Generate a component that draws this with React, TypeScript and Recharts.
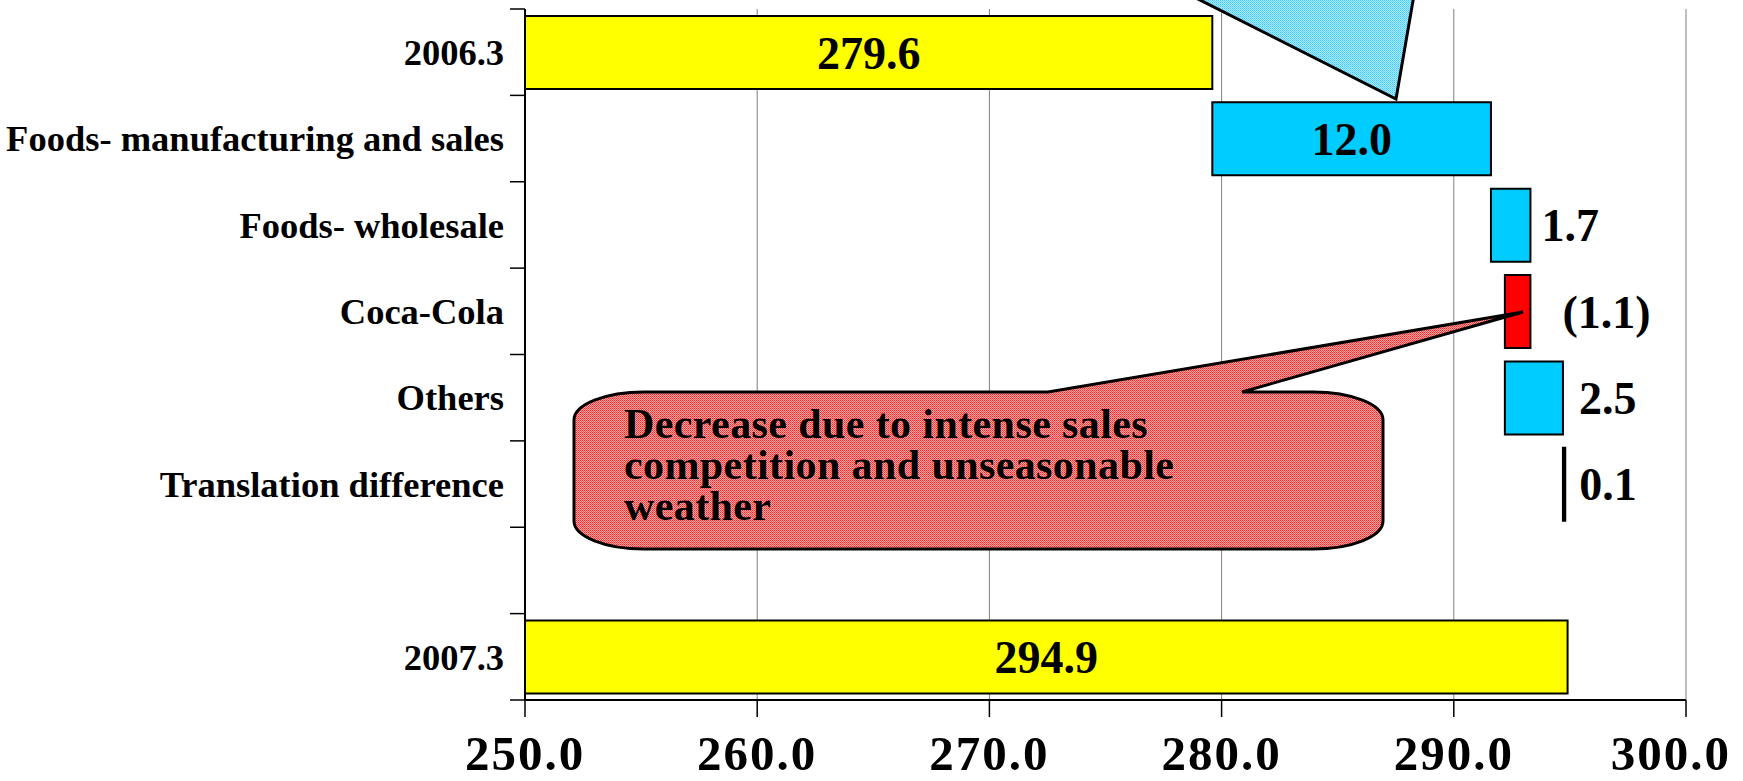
import React from "react";
import {
  BarChart,
  Bar,
  XAxis,
  YAxis,
  CartesianGrid,
  Cell,
  LabelList,
} from "recharts";

const categories = [
  "2006.3",
  "Foods- manufacturing and sales",
  "Foods- wholesale",
  "Coca-Cola",
  "Others",
  "Translation difference",
  "",
  "2007.3",
];
// totals are absolute, the rest are changes from the running total
const kinds = ["total", "up", "up", "down", "up", "fx", "blank", "total"];
const values = [279.6, 12.0, 1.7, -1.1, 2.5, 0.1, null, 294.9];
const valueLabels = ["279.6", "12.0", "1.7", "(1.1)", "2.5", "0.1", "", "294.9"];
const xTicks = [250, 260, 270, 280, 290, 300];
const calloutText = [
  "Decrease due to intense sales",
  "competition and unseasonable",
  "weather",
];

const W = 1743;
const H = 781;
const MARGIN = { top: 9, right: 57, bottom: 0, left: 0 };
const Y_AXIS_W = 525;
const X_AXIS_H = 81;
const BAND = (H - MARGIN.top - MARGIN.bottom - X_AXIS_H) / categories.length;
const FONT = '"Liberation Serif", "Times New Roman", serif';

const fills: Record<string, string> = {
  total: "#FFFF00",
  up: "#00CCFF",
  down: "#FF0000",
  fx: "#000000",
  blank: "none",
};
// gap between bar end and outside label
const outsideOffset: Record<number, number> = { 2: 11, 3: 32, 4: 16, 5: 14 };

const domainMin = xTicks[0];
let running = 0;
const data = categories.map((name, i) => {
  const v = values[i];
  let range: number[] | null = null;
  if (v !== null) {
    if (kinds[i] === "total") {
      range = [domainMin, v];
      running = v;
    } else {
      const next = running + v;
      range = [Math.min(running, next), Math.max(running, next)];
      running = next;
    }
  }
  return { name, range, label: valueLabels[i], kind: kinds[i] };
});

const YTick = (props: any) => {
  const { x, y, payload, index } = props;
  const ax = Y_AXIS_W;
  return (
    <g>
      <line x1={ax - 15} x2={ax} y1={y - BAND / 2} y2={y - BAND / 2} stroke="#000" strokeWidth={1.5} />
      {index === categories.length - 1 && (
        <line x1={ax - 15} x2={ax} y1={y + BAND / 2} y2={y + BAND / 2} stroke="#000" strokeWidth={1.5} />
      )}
      <text
        x={x}
        y={y}
        dy="0.35em"
        textAnchor="end"
        fontFamily={FONT}
        fontWeight="bold"
        fontSize={36.5}
        fill="#000"
      >
        {payload.value}
      </text>
    </g>
  );
};

const XTick = (props: any) => {
  const { x, y, payload, index } = props;
  const last = index === xTicks.length - 1;
  return (
    <text
      x={last ? W - 12 : x}
      y={y}
      dy="0.71em"
      textAnchor={last ? "end" : "middle"}
      fontFamily={FONT}
      fontWeight="bold"
      fontSize={49}
      letterSpacing={2}
      fill="#000"
    >
      {Number(payload.value).toFixed(1)}
    </text>
  );
};

const ValueLabel = (props: any) => {
  const { x, y, width, height, value } = props;
  const index = valueLabels.indexOf(value);
  if (index < 0 || value === "") return null;
  const inside = kinds[index] === "total" || index === 1;
  const tx = inside ? x + width / 2 : x + width + (outsideOffset[index] ?? 12);
  return (
    <text
      x={tx}
      y={y + height / 2}
      dy="0.35em"
      textAnchor={inside ? "middle" : "start"}
      fontFamily={FONT}
      fontWeight="bold"
      fontSize={46}
      fill="#000"
    >
      {value}
    </text>
  );
};

const Callouts = () => {
  const l = 574, r = 1383, t = 392, b = 549, rx = 70, ry = 28;
  const redPath = [
    `M ${l + rx} ${t}`,
    `L 1048 ${t}`,
    `L 1523 312`,
    `L 1242 ${t}`,
    `L ${r - rx} ${t}`,
    `A ${rx} ${ry} 0 0 1 ${r} ${t + ry}`,
    `L ${r} ${b - ry}`,
    `A ${rx} ${ry} 0 0 1 ${r - rx} ${b}`,
    `L ${l + rx} ${b}`,
    `A ${rx} ${ry} 0 0 1 ${l} ${b - ry}`,
    `L ${l} ${t + ry}`,
    `A ${rx} ${ry} 0 0 1 ${l + rx} ${t}`,
    "Z",
  ].join(" ");
  return (
    <svg
      width={W}
      height={H}
      style={{ position: "absolute", left: 0, top: 0, pointerEvents: "none" }}
    >
      <defs>
        <pattern id="redDots" width="2" height="2" patternUnits="userSpaceOnUse">
          <rect width="2" height="2" fill="#ffa8a8" />
          <rect width="1" height="1" fill="#ff2020" />
          <rect x="1" y="1" width="1" height="1" fill="#ff5050" />
        </pattern>
        <pattern id="blueDots" width="2" height="2" patternUnits="userSpaceOnUse">
          <rect width="2" height="2" fill="#a8e8ff" />
          <rect width="1" height="1" fill="#40c8f8" />
          <rect x="1" y="1" width="1" height="1" fill="#70d8fc" />
        </pattern>
      </defs>
      <polygon
        points="1190,-5 1396,99 1414,-5"
        fill="url(#blueDots)"
        stroke="#000"
        strokeWidth={3}
        strokeLinejoin="miter"
      />
      <path d={redPath} fill="url(#redDots)" stroke="#000" strokeWidth={3} />
      {calloutText.map((line, i) => (
        <text
          key={i}
          x={624}
          y={438 + i * 41}
          fontFamily={FONT}
          fontWeight="bold"
          fontSize={42}
          letterSpacing={0.4}
          fill="#000"
        >
          {line}
        </text>
      ))}
    </svg>
  );
};

export default function App() {
  return (
    <div style={{ position: "absolute", left: 0, top: 0, width: W, height: H, background: "#fff" }}>
      <BarChart
        width={W}
        height={H}
        data={data}
        layout="vertical"
        margin={MARGIN}
        barCategoryGap="8%"
      >
        <CartesianGrid horizontal={false} stroke="#808080" strokeWidth={1} />
        <XAxis
          type="number"
          domain={[xTicks[0], xTicks[xTicks.length - 1]]}
          ticks={xTicks}
          interval={0}
          height={X_AXIS_H}
          axisLine={{ stroke: "#000", strokeWidth: 2 }}
          tickLine={{ stroke: "#000", strokeWidth: 1.5 }}
          tickSize={17}
          tickMargin={18}
          tick={<XTick />}
        />
        <XAxis
          xAxisId="top"
          orientation="top"
          type="number"
          domain={[xTicks[0], xTicks[xTicks.length - 1]]}
          height={0}
          tick={false}
          tickLine={false}
          axisLine={{ stroke: "#808080", strokeWidth: 1.5 }}
        />
        <YAxis
          type="category"
          dataKey="name"
          width={Y_AXIS_W}
          interval={0}
          tickSize={15}
          tickMargin={6}
          tickLine={false}
          axisLine={{ stroke: "#000", strokeWidth: 2 }}
          tick={<YTick />}
        />
        <YAxis
          yAxisId="right"
          orientation="right"
          type="category"
          dataKey="name"
          width={0}
          tick={false}
          tickLine={false}
          axisLine={{ stroke: "#000", strokeWidth: 2 }}
        />
        <Bar dataKey="range" stroke="#000" strokeWidth={2} isAnimationActive={false}>
          {data.map((d, i) => (
            <Cell key={i} fill={fills[d.kind]} />
          ))}
          <LabelList dataKey="label" content={<ValueLabel />} />
        </Bar>
      </BarChart>
      <Callouts />
    </div>
  );
}
